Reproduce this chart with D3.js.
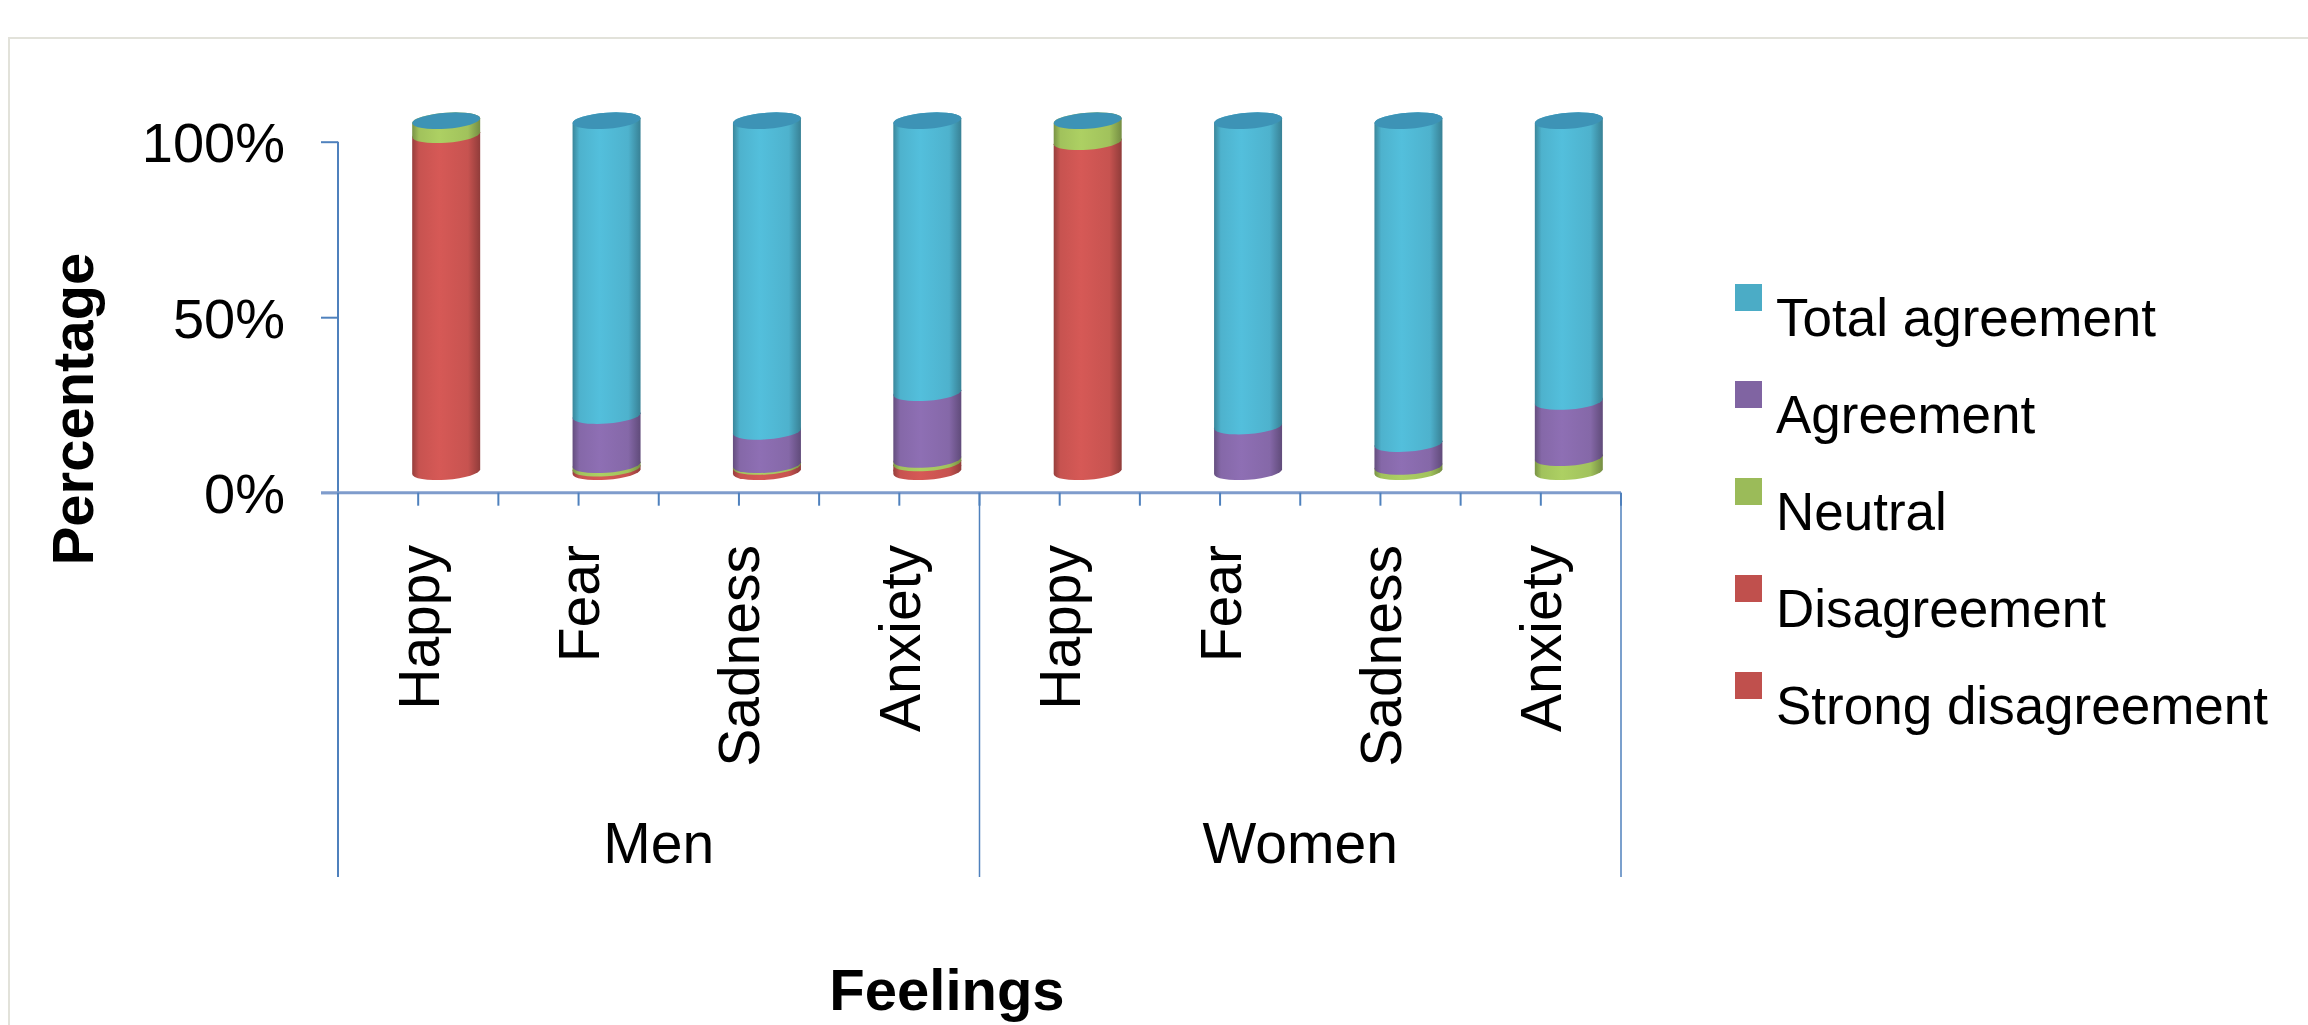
<!DOCTYPE html>
<html>
<head>
<meta charset="utf-8">
<script src="https://cdn.jsdelivr.net/npm/d3@7"></script>
<style>
  body { margin: 0; background: #fff; }
  svg { display: block; font-family: "Liberation Sans", Arial, sans-serif; }
</style>
</head>
<body>
<svg id="chart" width="2308" height="1025"></svg>
<script>
// categories
const groups = ["Men", "Women"];
const feelings = ["Happy", "Fear", "Sadness", "Anxiety"];
const bars = ["Men Happy", "Men Fear", "Men Sadness", "Men Anxiety",
              "Women Happy", "Women Fear", "Women Sadness", "Women Anxiety"];

// series values (percent), stacked bottom -> top
const strongDisagreement = [0, 0, 0, 1, 0, 0, 0, 0];
const disagreement       = [96, 1, 1.5, 1.5, 94, 0, 0, 0];
const neutral            = [4, 1, 0.5, 1, 6, 0, 1.5, 4];
const agreement          = [0, 14, 9.5, 19, 0, 13, 6.5, 16];
const totalAgreement     = [0, 84, 88.5, 77.5, 0, 87, 92, 80];

const seriesNames = ["Strong disagreement", "Disagreement", "Neutral", "Agreement", "Total agreement"];
const seriesValues = [strongDisagreement, disagreement, neutral, agreement, totalAgreement];
const seriesColors = ["#c0504d", "#c0504d", "#9bbb59", "#8064a2", "#4bacc6"];

const yTicks = [0, 50, 100];

const width = 2308, height = 1025;
const axisLeftX = 338, axisRightX = 1621;
const y0 = 492.7, y100 = 141.7;
const groupBottom = 877;

// 3d depth shift of the bars vs the axes
const depthX = 28, depthY = -21;
const rx = 34, ry = 8;

const svg = d3.select("#chart");

// chart area border
svg.append("rect")
    .attr("x", 9).attr("y", 38)
    .attr("width", 2400).attr("height", 1200)
    .attr("fill", "none")
    .attr("stroke", "#e2e2da")
    .attr("stroke-width", 2);

const x = d3.scaleBand().domain(bars).range([axisLeftX, axisRightX]);
const y = d3.scaleLinear().domain([0, 100]).range([y0, y100]);

// gradients for cylinder shading
const defs = svg.append("defs");
seriesColors.forEach((c, i) => {
    const base = d3.color(c).brighter(0.1);
    const g = defs.append("linearGradient")
        .attr("id", "grad" + i)
        .attr("x1", 0).attr("x2", 1).attr("y1", 0).attr("y2", 0);
    g.append("stop").attr("offset", "0%").attr("stop-color", d3.color(c).darker(0.7));
    g.append("stop").attr("offset", "10%").attr("stop-color", base);
    g.append("stop").attr("offset", "40%").attr("stop-color", d3.color(c).brighter(0.3));
    g.append("stop").attr("offset", "82%").attr("stop-color", base);
    g.append("stop").attr("offset", "100%").attr("stop-color", d3.color(c).darker(0.8));
});

// y axis
const yAxis = svg.append("g")
    .attr("transform", `translate(${axisLeftX},0)`)
    .call(d3.axisLeft(y).tickValues(yTicks).tickFormat(d => d + "%").tickSize(17).tickPadding(36))
    .call(g => g.select(".domain").remove());
yAxis.selectAll(".tick line").attr("stroke", "#4f81bd").attr("stroke-width", 2);
yAxis.selectAll(".tick text")
    .attr("fill", "#000")
    .style("font-size", "56px")
    .attr("dy", "0.36em");

// y axis line, continues down as the group divider
svg.append("line")
    .attr("x1", axisLeftX).attr("x2", axisLeftX)
    .attr("y1", y(100)).attr("y2", groupBottom)
    .attr("stroke", "#4f81bd").attr("stroke-width", 2);

// baseline
svg.append("line")
    .attr("x1", axisLeftX - 17).attr("x2", axisRightX)
    .attr("y1", y(0)).attr("y2", y(0))
    .attr("stroke", "#7f9ccc").attr("stroke-width", 3);

// x ticks at every half band
const bw = x.bandwidth();
const tickPos = [];
bars.forEach(b => { tickPos.push(x(b)); tickPos.push(x(b) + bw / 2); });
tickPos.push(axisRightX);
svg.append("g").selectAll("line")
    .data(tickPos)
    .join("line")
    .attr("x1", d => d).attr("x2", d => d)
    .attr("y1", y(0)).attr("y2", y(0) + 13)
    .attr("stroke", "#4f81bd").attr("stroke-width", 2);

// group dividers
const groupEdges = [axisLeftX, x(bars[4]), axisRightX];
svg.append("g").selectAll("line")
    .data(groupEdges.slice(1))
    .join("line")
    .attr("x1", d => d).attr("x2", d => d)
    .attr("y1", y(0)).attr("y2", groupBottom)
    .attr("stroke", "#4f81bd").attr("stroke-width", 1.5);

// category labels (rotated)
svg.append("g").selectAll("text")
    .data(bars)
    .join("text")
    .attr("transform", d => `translate(${x(d) + bw / 2},545) rotate(-90)`)
    .attr("text-anchor", "end")
    .attr("dy", "0.36em")
    .style("font-size", "57px")
    .attr("fill", "#000")
    .text((d, i) => feelings[i % 4]);

// group labels
svg.append("g").selectAll("text")
    .data(groups)
    .join("text")
    .attr("x", (d, i) => (groupEdges[i] + groupEdges[i + 1]) / 2)
    .attr("y", 863)
    .attr("text-anchor", "middle")
    .style("font-size", "57px")
    .attr("fill", "#000")
    .text(d => d);

// cylinders
bars.forEach((b, i) => {
    const cx = x(b) + bw / 2 + depthX;
    const g = svg.append("g")
        .attr("transform", `translate(${cx},0) skewY(-4)`);
    let cum = 0;
    seriesValues.forEach((vals, s) => {
        const v = vals[i];
        if (v <= 0) return;
        const yb = y(cum) + depthY;
        const yt = y(cum + v) + depthY;
        cum += v;
        g.append("path")
            .attr("d", `M${-rx},${yt} L${-rx},${yb} A${rx},${ry} 0 0 0 ${rx},${yb} L${rx},${yt} A${rx},${ry} 0 0 0 ${-rx},${yt} Z`)
            .attr("fill", `url(#grad${s})`);
    });
    // top cap in the colour of the top series
    g.append("ellipse")
        .attr("cx", 0).attr("cy", y(cum) + depthY)
        .attr("rx", rx).attr("ry", ry)
        .attr("fill", "#3d93b6");
});

// legend
const legendOrder = [4, 3, 2, 1, 0];
const legend = svg.append("g").attr("transform", "translate(1735,284)");
legendOrder.forEach((s, k) => {
    const item = legend.append("g").attr("transform", `translate(0,${k * 97})`);
    item.append("rect")
        .attr("width", 27).attr("height", 27)
        .attr("fill", seriesColors[s]);
    item.append("text")
        .attr("x", 41).attr("y", 52)
        .style("font-size", "53px")
        .attr("fill", "#000")
        .text(seriesNames[s]);
});

// axis titles
svg.append("text")
    .attr("transform", "translate(93,409) rotate(-90)")
    .attr("text-anchor", "middle")
    .style("font-size", "58px")
    .style("font-weight", "bold")
    .text("Percentage");

svg.append("text")
    .attr("x", 947).attr("y", 1010)
    .attr("text-anchor", "middle")
    .style("font-size", "58px")
    .style("font-weight", "bold")
    .text("Feelings");
</script>
</body>
</html>
